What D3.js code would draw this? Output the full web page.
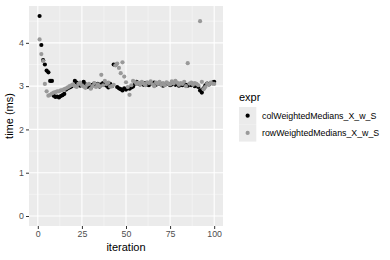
<!DOCTYPE html>
<html>
<head>
<meta charset="utf-8">
<script src="https://cdn.jsdelivr.net/npm/d3@7"></script>
<style>
  body { margin: 0; background: #fff; }
  text { font-family: "Liberation Sans", Arial, sans-serif; }
</style>
</head>
<body>
<div id="chart"></div>
<script>
// series names as shown in the legend
const seriesNames = ["colWeightedMedians_X_w_S", "rowWeightedMedians_X_w_S"];
const seriesColors = ["#000000", "#999999"];

// time (ms) per iteration 1..100
const colValues = [
  4.62, 3.95, 3.60, 3.50, 3.36, 3.32, 3.12, 3.12, 2.78, 2.75,
  2.76, 2.74, 2.77, 2.79, 2.82, 2.92, 2.95, 2.97, 2.99, 3.02,
  3.12, 3.08, 3.05, 3.01, 3.03, 3.10, 3.04, 2.98, 3.00, 2.96,
  3.03, 3.06, 3.02, 3.05, 2.99, 3.04, 3.07, 3.03, 3.01, 2.97,
  3.05, 3.00, 3.50, 3.49, 2.98, 2.95, 2.93, 2.90, 2.95, 2.92,
  2.96, 2.94, 2.97, 2.99, 3.05, 3.10, 3.06, 3.04, 3.05, 3.03,
  3.07, 3.04, 3.02, 3.06, 3.05, 3.08, 3.03, 3.05, 3.07, 3.04,
  3.01, 3.03, 3.06, 3.05, 3.02, 3.04, 3.06, 3.03, 3.05, 3.01,
  3.04, 3.02, 3.05, 3.03, 3.01, 3.04, 3.02, 3.05, 3.00, 3.03,
  2.98, 2.90, 2.85, 2.95, 3.02, 3.06, 3.04, 3.07, 3.08, 3.10
];
const rowValues = [
  4.08, 3.74, 3.58, 3.05, 2.88, 2.78, 2.80, 2.83, 2.85, 2.86,
  2.88, 2.88, 2.90, 2.91, 2.93, 2.95, 2.97, 3.00, 3.02, 3.04,
  3.00, 2.98, 3.05, 3.08, 3.02, 2.99, 2.96, 3.03, 3.05, 2.94,
  3.00, 3.07, 2.98, 3.04, 3.00, 3.26, 3.02, 3.12, 3.05, 3.08,
  2.99, 3.00, 3.03, 3.48, 3.52, 3.42, 3.30, 3.55, 3.22, 3.09,
  2.98, 2.80, 3.02, 3.12, 3.10, 3.05, 3.08, 3.03, 3.10, 3.06,
  3.02, 3.09, 3.07, 3.11, 3.04, 3.00, 3.08, 3.05, 3.10, 3.03,
  3.07, 3.02, 3.09, 3.05, 3.04, 3.11, 3.06, 3.12, 3.08, 3.03,
  3.07, 3.05, 3.10, 3.00, 3.53, 3.06, 3.08, 3.03, 3.07, 3.05,
  3.02, 4.50, 3.10, 2.93, 2.98, 3.05, 3.03, 3.08, 3.06, 3.05
];

const xTicks = [0, 25, 50, 75, 100];
const yTicks = [0, 1, 2, 3, 4];

const width = 390;
const height = 260;
const panel = { left: 29, top: 6, right: 223, bottom: 226 };

const svg = d3.select('#chart')
    .append('svg')
    .attr('width', width)
    .attr('height', height);

const x = d3.scaleLinear().domain([-5, 105]).range([panel.left, panel.right]);
const y = d3.scaleLinear().domain([-0.231, 4.851]).range([panel.bottom, panel.top]);

// panel background
svg.append('rect')
    .attr('x', panel.left)
    .attr('y', panel.top)
    .attr('width', panel.right - panel.left)
    .attr('height', panel.bottom - panel.top)
    .attr('fill', '#ebebeb');

// minor grid
const xMinor = [12.5, 37.5, 62.5, 87.5];
const yMinor = [0.5, 1.5, 2.5, 3.5, 4.5];
svg.append('g').selectAll('line')
    .data(xMinor).enter().append('line')
    .attr('x1', d => x(d)).attr('x2', d => x(d))
    .attr('y1', panel.top).attr('y2', panel.bottom)
    .attr('stroke', '#fafafa').attr('stroke-width', 0.5);
svg.append('g').selectAll('line')
    .data(yMinor).enter().append('line')
    .attr('y1', d => y(d)).attr('y2', d => y(d))
    .attr('x1', panel.left).attr('x2', panel.right)
    .attr('stroke', '#fafafa').attr('stroke-width', 0.5);

// major grid
svg.append('g').selectAll('line')
    .data(xTicks).enter().append('line')
    .attr('x1', d => x(d)).attr('x2', d => x(d))
    .attr('y1', panel.top).attr('y2', panel.bottom)
    .attr('stroke', '#ffffff').attr('stroke-width', 1.1);
svg.append('g').selectAll('line')
    .data(yTicks).enter().append('line')
    .attr('y1', d => y(d)).attr('y2', d => y(d))
    .attr('x1', panel.left).attr('x2', panel.right)
    .attr('stroke', '#ffffff').attr('stroke-width', 1.1);

// axes
const xAxis = svg.append('g')
    .attr('transform', 'translate(0,' + panel.bottom + ')')
    .call(d3.axisBottom(x).tickValues(xTicks).tickFormat(d3.format('d')).tickSize(3).tickPadding(2));
const yAxis = svg.append('g')
    .attr('transform', 'translate(' + panel.left + ',0)')
    .call(d3.axisLeft(y).tickValues(yTicks).tickFormat(d3.format('d')).tickSize(3).tickPadding(2));
[xAxis, yAxis].forEach(a => {
    a.select('.domain').remove();
    a.selectAll('line').attr('stroke', '#333333');
    a.selectAll('text').attr('fill', '#4d4d4d').attr('font-size', '8.8px')
        .style('font-family', '"Liberation Sans", Arial, sans-serif');
});

// axis titles
svg.append('text')
    .attr('x', (panel.left + panel.right) / 2)
    .attr('y', 251)
    .attr('text-anchor', 'middle')
    .attr('font-size', '11px')
    .attr('fill', '#000')
    .text('iteration');
svg.append('text')
    .attr('transform', 'translate(13,' + ((panel.top + panel.bottom) / 2) + ') rotate(-90)')
    .attr('text-anchor', 'middle')
    .attr('font-size', '11px')
    .attr('fill', '#000')
    .text('time (ms)');

// points, one layer per series
const series = [colValues, rowValues];
series.forEach((vals, s) => {
    svg.append('g').selectAll('circle')
        .data(vals).enter().append('circle')
        .attr('cx', (d, i) => x(i + 1))
        .attr('cy', d => y(d))
        .attr('r', 2.1)
        .attr('fill', seriesColors[s]);
});

// legend
const legend = svg.append('g').attr('transform', 'translate(239,0)');
legend.append('text')
    .attr('x', 0).attr('y', 101)
    .attr('font-size', '11px')
    .attr('fill', '#000')
    .text('expr');
seriesNames.forEach((name, i) => {
    const ky = 107 + i * 17.3;
    legend.append('rect')
        .attr('x', 0).attr('y', ky)
        .attr('width', 17.3).attr('height', 17.3)
        .attr('fill', '#ebebeb');
    legend.append('circle')
        .attr('cx', 8.65).attr('cy', ky + 8.65)
        .attr('r', 2.1)
        .attr('fill', seriesColors[i]);
    legend.append('text')
        .attr('x', 23).attr('y', ky + 8.65)
        .attr('dy', '0.35em')
        .attr('font-size', '8.8px')
        .attr('fill', '#000')
        .text(name);
});
</script>
</body>
</html>
